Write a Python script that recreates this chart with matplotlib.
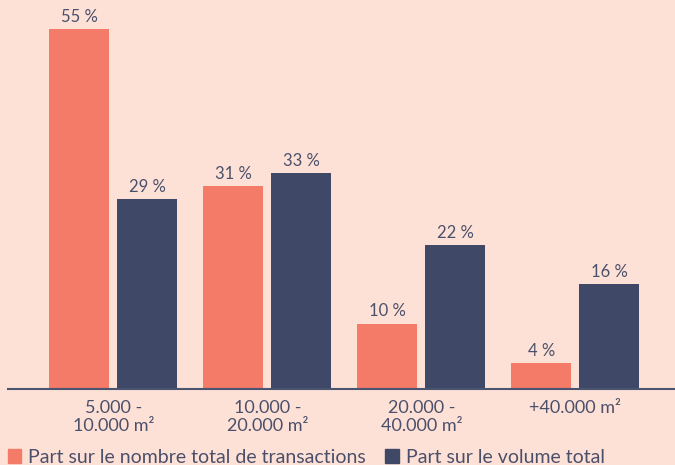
import matplotlib.pyplot as plt
from matplotlib.patches import Patch

# data
categories = ["5.000 -\n10.000 m²", "10.000 -\n20.000 m²", "20.000 -\n40.000 m²", "+40.000 m²"]
part_transactions = [55, 31, 10, 4]
part_volume = [29, 33, 22, 16]
series_names = ["Part sur le nombre total de transactions", "Part sur le volume total"]

bg = "#FDE1D7"
c_orange = "#F47B67"
c_navy = "#3F4866"
c_text = "#4B506A"

plt.rcParams['font.family'] = ['Lato', 'DejaVu Sans']

fig = plt.figure(figsize=(6.75, 4.65), dpi=100, facecolor=bg)
# axes spans x 8..675 px, y 0..389 px (from top)
ax = fig.add_axes([8/675, (465-389)/465, 667/675, 389/465], facecolor=bg)

x = range(len(categories))
w = 60/154
off = 34/154
b1 = ax.bar([i - off for i in x], part_transactions, w, color=c_orange)
b2 = ax.bar([i + off for i in x], part_volume, w, color=c_navy)

for bars, vals in ((b1, part_transactions), (b2, part_volume)):
    for b, v in zip(bars, vals):
        ax.annotate(f"{v} %", (b.get_x() + b.get_width()/2, v), xytext=(0, 3),
                    textcoords="offset points", ha="center", va="bottom",
                    fontsize=12, color=c_text)

ax.set_xlim(-0.684, 3.647)
ax.set_ylim(0, 59.4)
ax.set_yticks([])
ax.set_xticks(list(x))
ax.set_xticklabels(categories, fontsize=13, color=c_text, linespacing=1.15)
ax.tick_params(axis="x", length=0, pad=8)
for s in ["top", "right", "left"]:
    ax.spines[s].set_visible(False)
ax.spines["bottom"].set_color("#4B5470")
ax.spines["bottom"].set_linewidth(1.5)

handles = [Patch(color=c_orange), Patch(color=c_navy)]
fig.legend(handles, series_names, loc="lower left", bbox_to_anchor=(0.0, -0.018),
           ncol=2, frameon=False, fontsize=14, handlelength=0.7, handleheight=0.7,
           handletextpad=0.35, columnspacing=1.0, borderaxespad=0.0,
           labelcolor=c_text)

fig.savefig("out.png", dpi=100, facecolor=bg)
